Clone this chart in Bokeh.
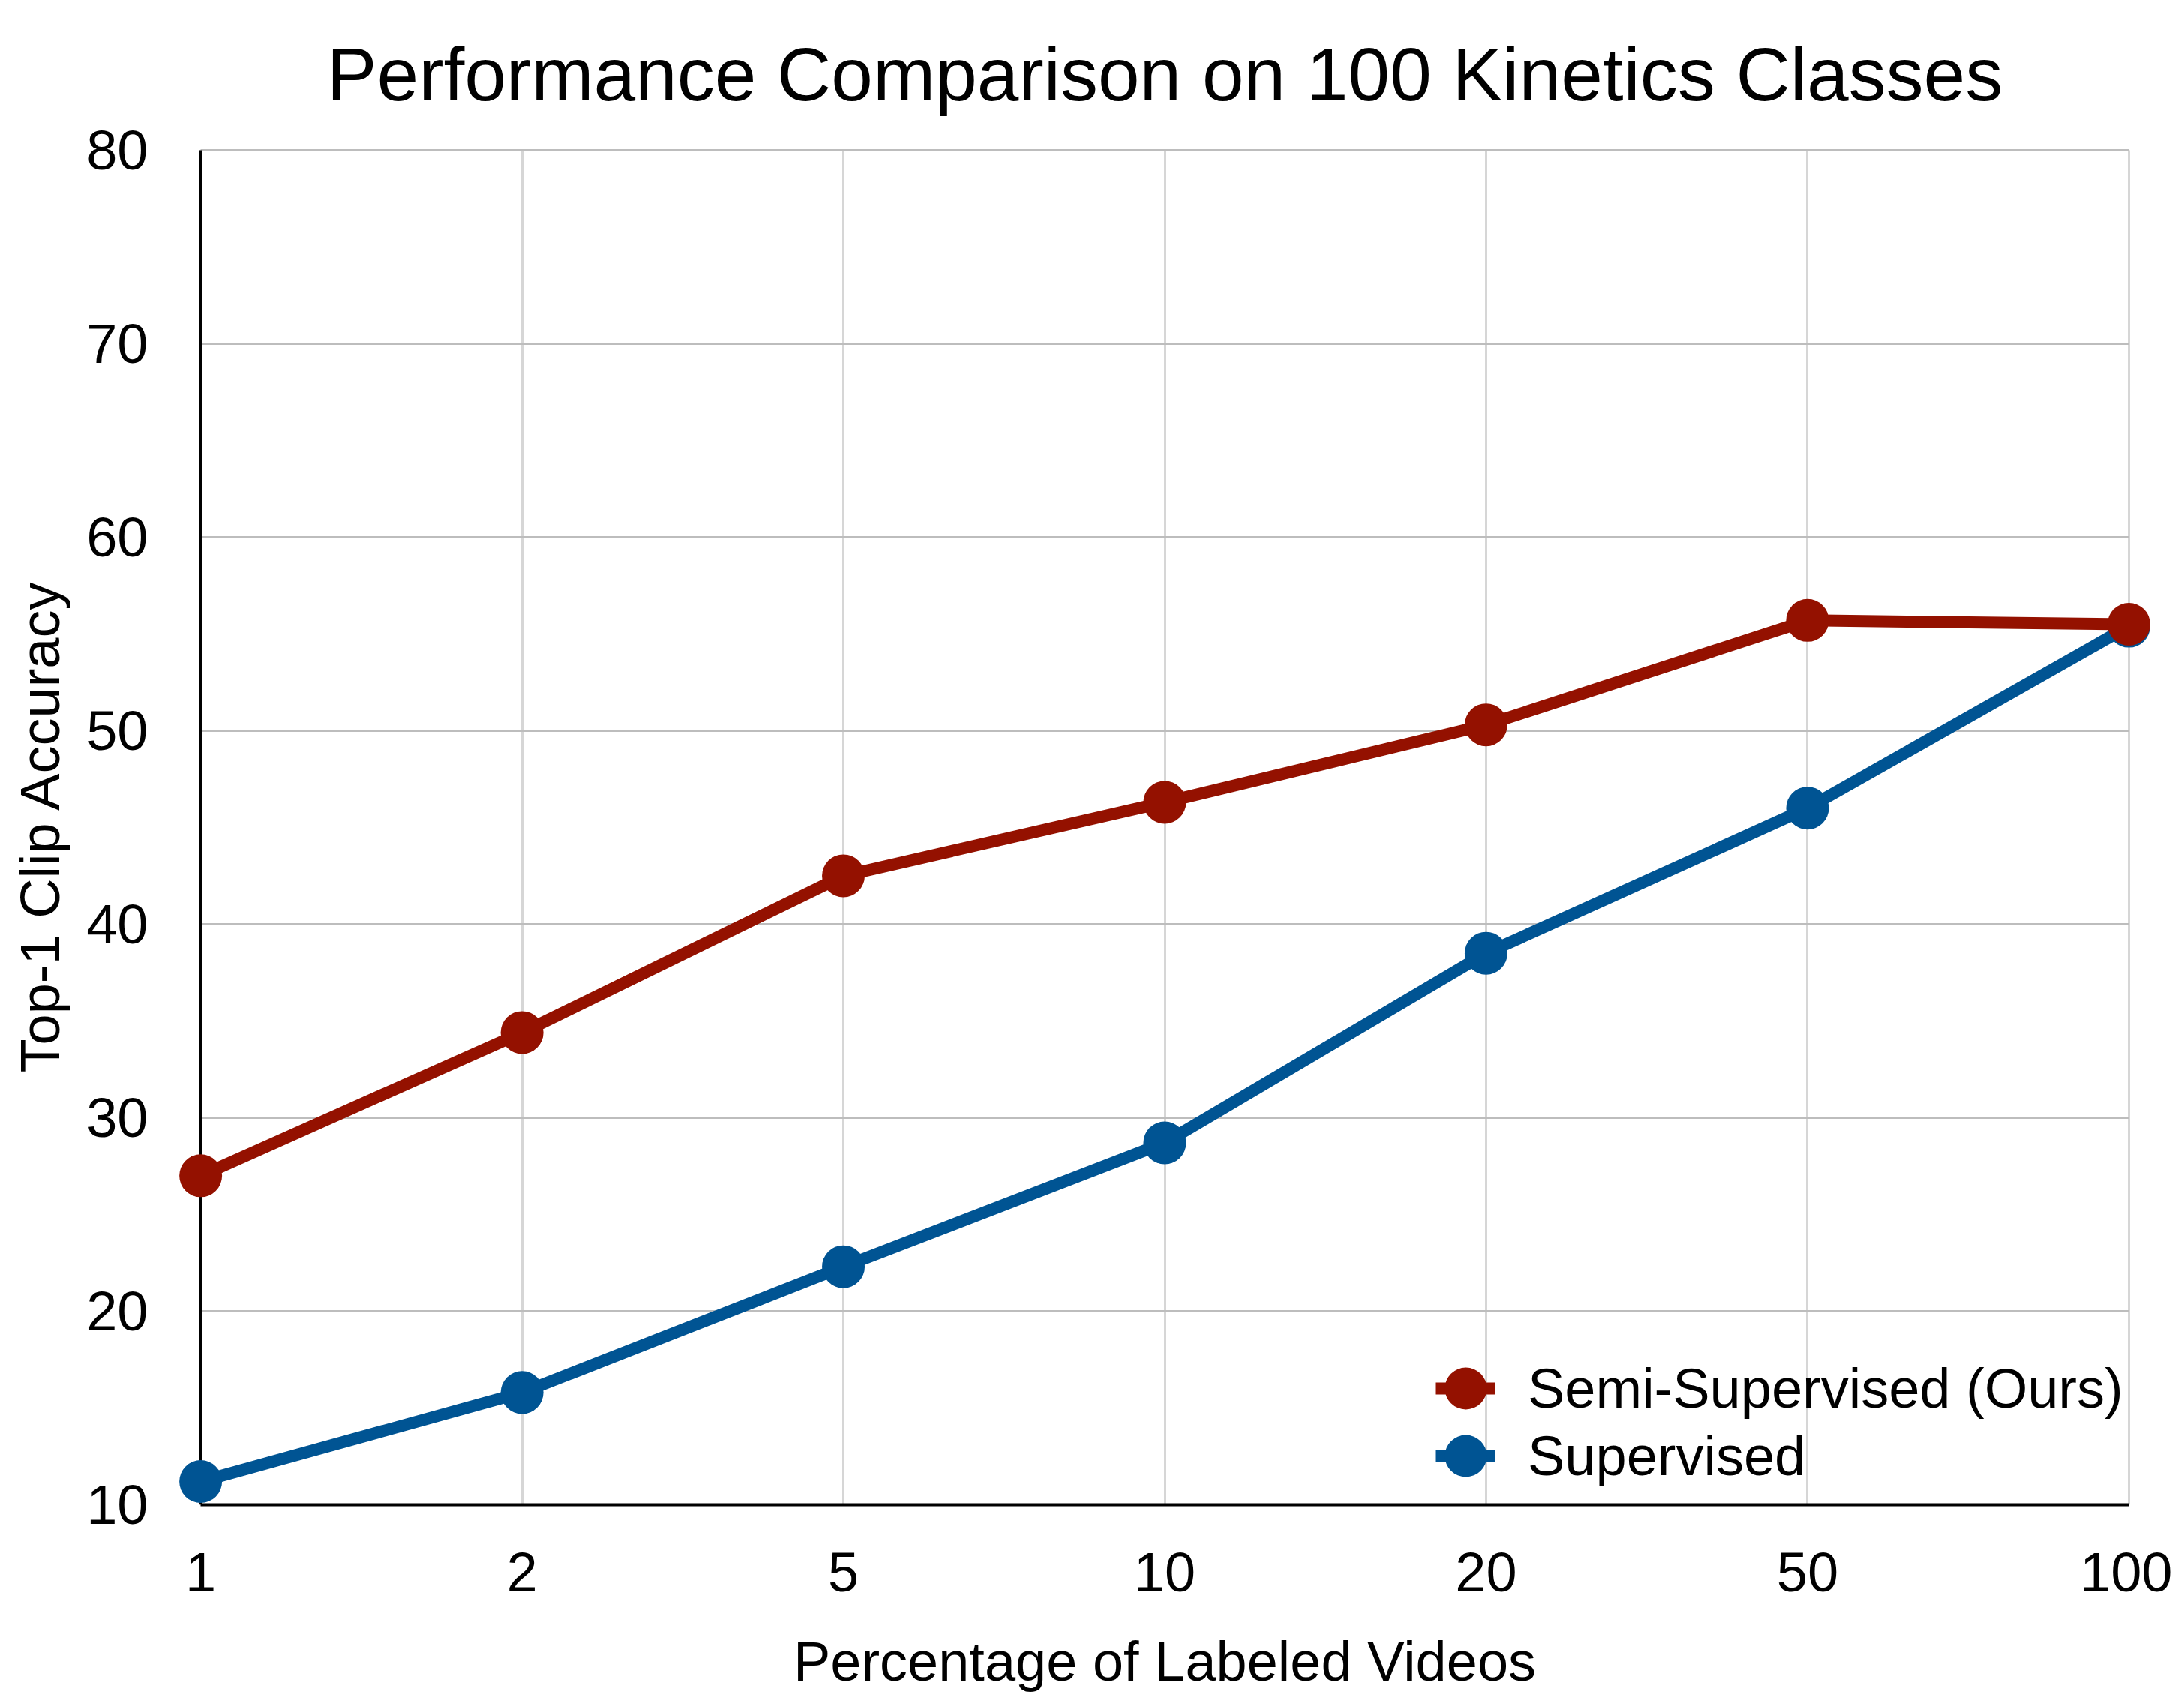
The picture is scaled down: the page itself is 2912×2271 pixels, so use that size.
from bokeh.plotting import figure
from bokeh.models import Range1d, FixedTicker, Legend, LegendItem, Grid
from bokeh.embed import file_html
from bokeh.resources import INLINE

categories = ["1", "2", "5", "10", "20", "50", "100"]
semi_supervised = [27.0, 34.4, 42.5, 46.3, 50.3, 55.7, 55.5]
supervised = [11.2, 15.8, 22.3, 28.7, 38.5, 46.0, 55.4]
y_ticks = [10, 20, 30, 40, 50, 60, 70, 80]

RED = "#941100"
BLUE = "#005493"
FONT = "Liberation Sans"

xs = list(range(len(categories)))
PAD = 0.075   # room so the end markers are not cut by the frame
YPAD = 0.15   # lets the 80 grid line be drawn

p = figure(
    frame_width=2635, frame_height=1810,
    min_border_left=235, min_border_right=26,
    min_border_top=196, min_border_bottom=249,
    output_backend="svg", toolbar_location=None,
    x_range=Range1d(xs[0] - PAD, xs[-1] + PAD),
    y_range=Range1d(y_ticks[0], y_ticks[-1] + YPAD),
)
p.outline_line_color = None
p.background_fill_color = "white"
p.border_fill_color = "white"

p.title.text = "Performance Comparison on 100 Kinetics Classes"
p.title.align = "center"
p.title.vertical_align = "top"
p.title.text_font = FONT
p.title.text_font_size = "100px"
p.title.text_font_style = "normal"
p.title.text_color = "black"
p.title.standoff = 80

p.xaxis.ticker = FixedTicker(ticks=xs)
p.xaxis.major_label_overrides = {i: c for i, c in enumerate(categories)}
p.xaxis.bounds = (xs[0], xs[-1])
p.yaxis.ticker = FixedTicker(ticks=y_ticks)

for ax in (p.xaxis[0], p.yaxis[0]):
    ax.axis_line_color = "black"
    ax.axis_line_width = 4
    ax.major_tick_line_color = None
    ax.minor_tick_line_color = None
    ax.major_tick_out = 0
    ax.major_tick_in = 0
    ax.major_label_text_font = FONT
    ax.major_label_text_font_size = "74px"
    ax.major_label_text_color = "black"
    ax.axis_label_text_font = FONT
    ax.axis_label_text_font_size = "74px"
    ax.axis_label_text_font_style = "normal"
    ax.axis_label_text_color = "black"
p.yaxis.axis_line_color = None

p.xaxis.axis_label = "Percentage of Labeled Videos"
p.yaxis.axis_label = "Top-1 Clip Accuracy"
p.xaxis.major_label_standoff = 64
p.xaxis.axis_label_standoff = 49
p.yaxis.major_label_standoff = 38
p.yaxis.axis_label_standoff = 17

p.xgrid.grid_line_color = "#d6d6d6"
p.xgrid.grid_line_width = 3
p.xgrid.cross_bounds = (y_ticks[0], y_ticks[-1])
p.ygrid.grid_line_color = "#bdbdbd"
p.ygrid.grid_line_width = 3
p.ygrid.cross_bounds = (xs[0], xs[-1])

# black vertical axis line at the first category
axis_grid = Grid(dimension=0, ticker=FixedTicker(ticks=[xs[0]]),
                 grid_line_color="black", grid_line_width=4,
                 cross_bounds=(y_ticks[0], y_ticks[-1]))
p.add_layout(axis_grid)

red_line = p.line(xs, semi_supervised, line_color=RED, line_width=16)
red_pts = p.scatter(xs, semi_supervised, marker="circle", size=57,
                    fill_color=RED, line_color=None)
blue_line = p.line(xs, supervised, line_color=BLUE, line_width=16)
blue_pts = p.scatter(xs, supervised, marker="circle", size=57,
                     fill_color=BLUE, line_color=None)
# keep red on top like the reference
p.renderers = [blue_line, blue_pts, red_line, red_pts]

# legend: short line stubs under the markers
leg_lines = Legend(
    items=[LegendItem(label=" ", renderers=[red_line]),
           LegendItem(label=" ", renderers=[blue_line])],
    location=(1679, 20), glyph_width=80, glyph_height=90, spacing=0,
    padding=0, margin=0, label_standoff=0, label_width=1,
    background_fill_alpha=0, border_line_color=None,
    label_text_font_size="10px",
)
p.add_layout(leg_lines, "center")

for label, rend, y0 in (("Semi-Supervised (Ours)", red_pts, 85),
                        ("Supervised", blue_pts, -5)):
    leg = Legend(
        items=[LegendItem(label=label, renderers=[rend])],
        location=(1649, y0), glyph_width=140, glyph_height=140, spacing=0,
        padding=0, margin=0, label_standoff=13,
        background_fill_alpha=0, border_line_color=None,
        label_text_font=FONT, label_text_font_size="74px",
        label_text_color="black",
    )
    p.add_layout(leg, "center")

open("out.html", "w").write(file_html(p, INLINE))
